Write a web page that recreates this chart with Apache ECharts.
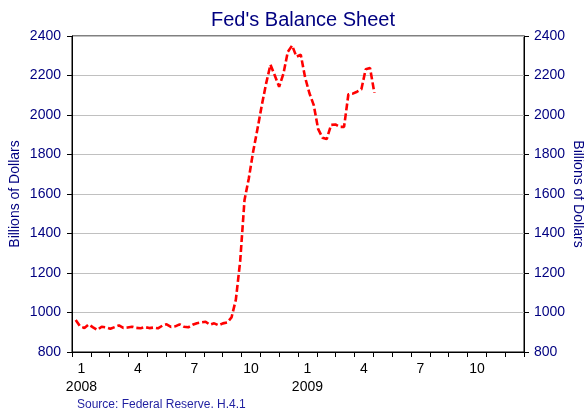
<!DOCTYPE html>
<html>
<head>
<meta charset="utf-8">
<script src="https://cdn.jsdelivr.net/npm/echarts@6/dist/echarts.min.js"></script>
<style>
html,body{margin:0;padding:0;background:#fff;}
#chart{width:584px;height:408px;}
</style>
</head>
<body>
<div id="chart"></div>
<script>
// ---- data ----
var monthLabels = ['1','2','3','4','5','6','7','8','9','10','11','12','1','2','3','4','5','6','7','8','9','10','11','12'];
var yearLabels = {0: '2008', 12: '2009'};
var firstWeek = [2008, 0, 7]; // weekly observations starting here
var balance = [
  962, 930, 922, 940, 925, 912, 928, 925, 918, 926,
  935, 922, 924, 928, 922, 920, 926, 921, 924, 920,
  933, 940, 927, 930, 940, 928, 925, 938, 946, 950,
  953, 938, 945, 935, 945, 950, 975, 1065, 1260, 1570,
  1680, 1815, 1930, 2050, 2160, 2255, 2200, 2143, 2210, 2320,
  2352, 2295, 2305, 2190, 2110, 2050, 1930, 1885, 1878, 1950,
  1952, 1940, 1940, 2105, 2108, 2118, 2130, 2232, 2238, 2112
];
var yTicks = {min: 800, max: 2400, step: 200};
var titleText = "Fed's Balance Sheet";
var yName = 'Billions of Dollars';
var sourceText = 'Source: Federal Reserve, H.4.1';

var seriesData = balance.map(function (v, i) {
  var d = new Date(firstWeek[0], firstWeek[1], firstWeek[2] + 7 * i);
  return [d.getTime(), v];
});

var FONT = 'Liberation Sans, Arial, sans-serif';
var NAVY = '#000080';
var plain = function (v) { return String(v); };

var chart = echarts.init(document.getElementById('chart'), null, {renderer: 'canvas'});
chart.setOption({
  animation: false,
  backgroundColor: '#ffffff',
  title: [{
    text: titleText,
    left: 298,
    textAlign: 'center',
    top: 5,
    textStyle: {fontFamily: FONT, fontSize: 20, fontWeight: 'normal', color: NAVY}
  }, {
    text: sourceText,
    left: 72,
    top: 394,
    textStyle: {fontFamily: FONT, fontSize: 12, fontWeight: 'normal', color: '#1f1fa0'}
  }],
  grid: {left: 72, right: 60, top: 36, bottom: 56, show: true, borderColor: '#000', borderWidth: 1,
         containLabel: false, outerBoundsMode: 'none'},
  xAxis: [{
    type: 'category',
    data: monthLabels,
    boundaryGap: true,
    position: 'bottom',
    axisLine: {show: true, lineStyle: {color: '#000', width: 1}},
    axisTick: {show: true, interval: 0, length: 5, lineStyle: {color: '#000'}},
    axisLabel: {
      interval: 2,
      margin: 8,
      color: '#000',
      fontFamily: FONT,
      fontSize: 14,
      lineHeight: 18,
      formatter: function (val, idx) {
        return yearLabels[idx] ? val + '\n' + yearLabels[idx] : val;
      }
    },
    splitLine: {show: false}
  }, {
    type: 'time',
    min: new Date(2008, 0, 1).getTime(),
    max: new Date(2010, 0, 1).getTime(),
    show: false,
    splitLine: {show: false}
  }],
  yAxis: [{
    type: 'value',
    min: yTicks.min, max: yTicks.max, interval: yTicks.step,
    position: 'left',
    name: yName,
    nameLocation: 'middle',
    nameGap: 50,
    nameMoveOverlap: false,
    nameRotate: 90,
    nameTextStyle: {fontFamily: FONT, fontSize: 14, color: NAVY},
    axisLine: {show: true, lineStyle: {color: '#000', width: 1}},
    axisTick: {show: true, length: 5, lineStyle: {color: '#000'}},
    axisLabel: {margin: 11, color: NAVY, fontFamily: FONT, fontSize: 14, formatter: plain},
    splitLine: {show: true, lineStyle: {color: '#c0c0c0', width: 1}}
  }, {
    type: 'value',
    min: yTicks.min, max: yTicks.max, interval: yTicks.step,
    position: 'right',
    name: yName,
    nameLocation: 'middle',
    nameGap: 47,
    nameMoveOverlap: false,
    nameRotate: -90,
    nameTextStyle: {fontFamily: FONT, fontSize: 14, color: NAVY},
    axisLine: {show: true, lineStyle: {color: '#000', width: 1}},
    axisTick: {show: true, length: 5, lineStyle: {color: '#000'}},
    axisLabel: {margin: 10, color: NAVY, fontFamily: FONT, fontSize: 14, formatter: plain},
    splitLine: {show: false}
  }],
  series: [{
    type: 'line',
    xAxisIndex: 1,
    yAxisIndex: 0,
    data: seriesData,
    showSymbol: false,
    symbol: 'none',
    lineStyle: {color: '#ff0000', width: 2.6, type: [7, 3]},
    z: 3
  }]
});
</script>
</body>
</html>
